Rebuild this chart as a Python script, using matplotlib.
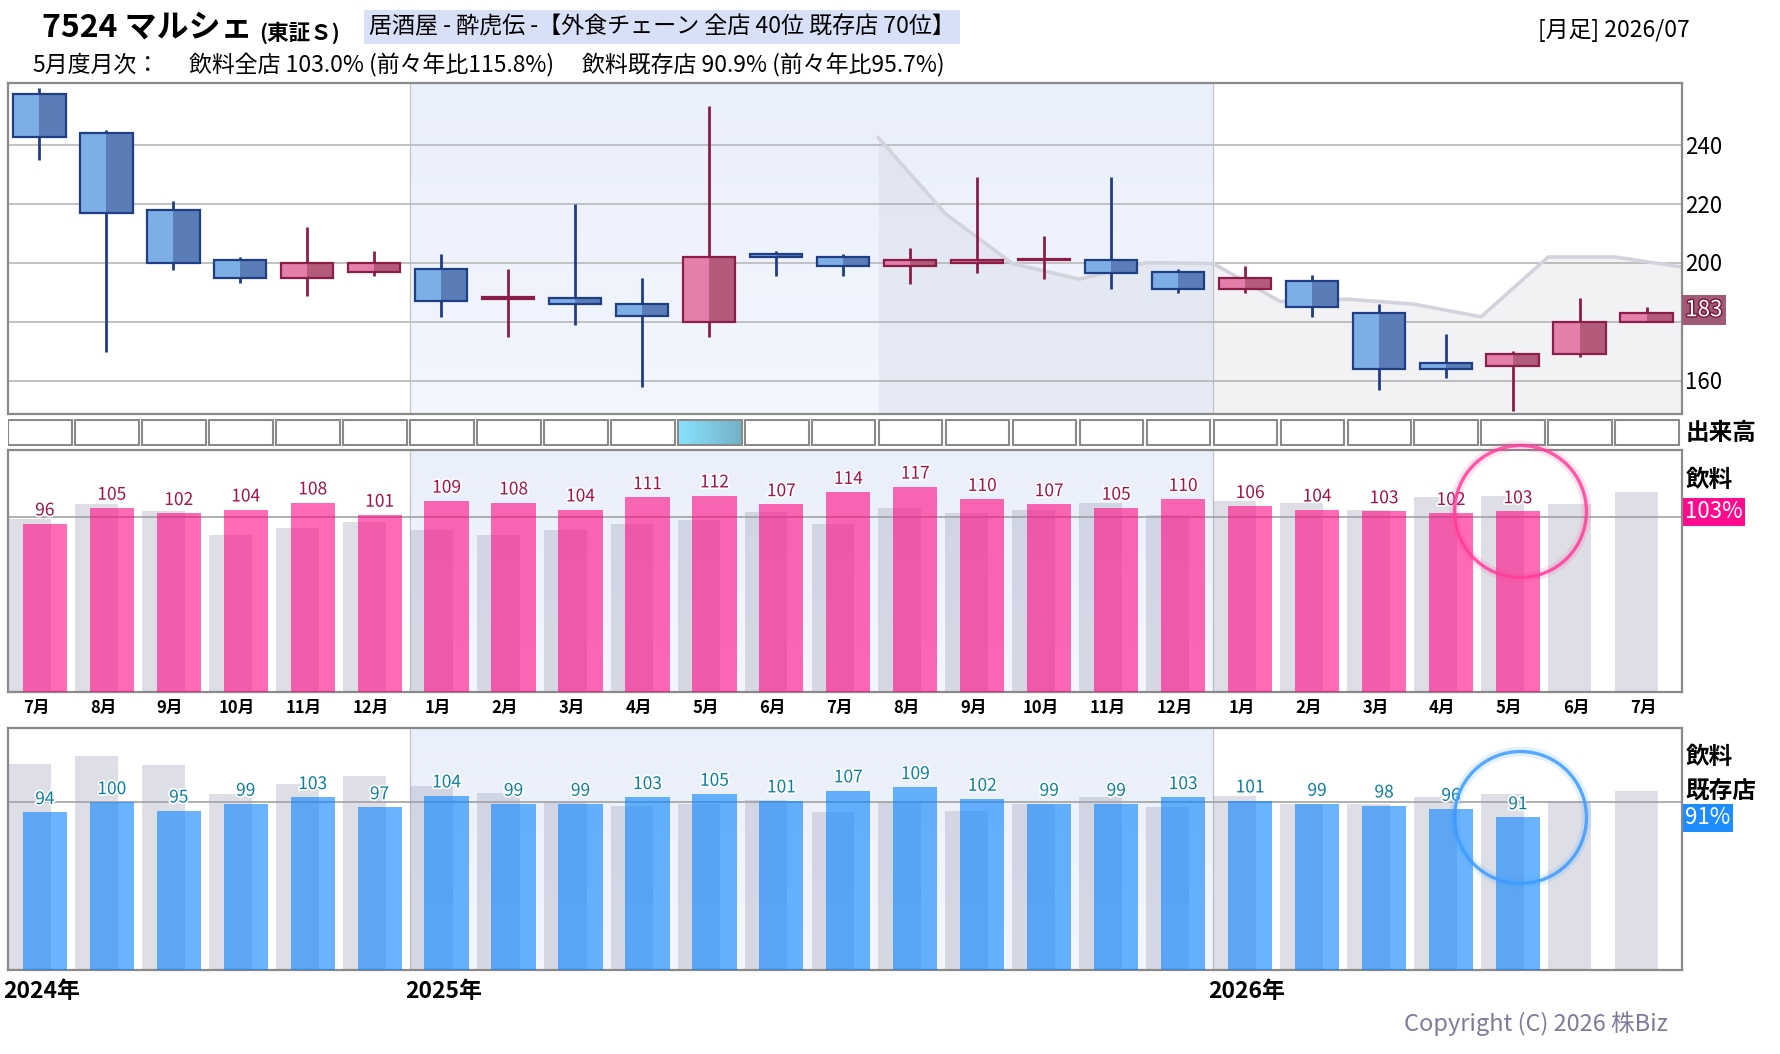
import numpy as np
import matplotlib
matplotlib.use('Agg')
import matplotlib.pyplot as plt
from matplotlib.patches import Rectangle
import matplotlib.patheffects as pe
import matplotlib.transforms as mtransforms

plt.rcParams['font.family'] = ['Noto Sans CJK JP', 'DejaVu Sans']

# ============================================================
#  DONNEES
# ============================================================
months = ['7月', '8月', '9月', '10月', '11月', '12月', '1月', '2月', '3月', '4月', '5月', '6月',
          '7月', '8月', '9月', '10月', '11月', '12月', '1月', '2月', '3月', '4月', '5月', '6月', '7月']
years = ['2024年', '2025年', '2026年']
year_start = [0, 6, 18]

opens  = [257.3, 244.1, 218.0, 201.0, 194.9, 196.9, 198.0, 188.0, 188.1, 186.1, 180.0, 203.0, 202.0,
          199.0, 200.0, 201.0, 201.0, 196.9, 191.1, 193.9, 183.0, 166.1, 165.1, 169.2, 180.1]
highs  = [259.5, 245.1, 221.1, 202.1, 212.3, 204.2, 203.2, 198.1, 220.0, 195.0, 253.3, 204.1, 203.2,
          205.2, 229.2, 209.3, 229.2, 198.1, 199.1, 196.0, 186.1, 175.9, 170.3, 188.2, 185.2]
lows   = [235.0, 170.0, 197.8, 193.2, 189.0, 195.8, 181.9, 174.8, 178.9, 157.8, 174.8, 195.8, 195.8,
          193.1, 196.8, 194.8, 191.1, 190.0, 190.0, 181.9, 156.8, 160.9, 149.7, 168.0, 180.1]
closes = [243.0, 216.9, 200.0, 194.9, 200.0, 200.0, 187.1, 188.4, 186.1, 182.0, 202.0, 202.0, 199.0,
          201.0, 201.0, 201.4, 196.8, 191.1, 194.9, 185.0, 164.1, 164.1, 169.2, 180.1, 183.0]
last_price = 183
price_ticks = [160, 200, 220, 240]

# ligne grise (moyenne), aux bords des mois a partir d'aout 2025
ma_start = 12.5
ma_vals = [242.6, 216.8, 199.9, 194.6, 200.2, 199.9, 187.0, 187.8, 186.1, 181.8, 202.1, 202.1, 198.7]

volume_highlight = 10

# 飲料 全店 (%)
all_store = [96, 105, 102, 104, 108, 101, 109, 108, 104, 111, 112, 107,
             114, 117, 110, 107, 105, 110, 106, 104, 103, 102, 103]
all_store_prev = [98.7, 107.2, 103.0, 89.3, 93.5, 97.2, 92.4, 89.3, 92.4, 95.6, 98.2, 102.4,
                  96, 105, 102, 104, 108, 101, 109, 108, 104, 111, 112, 107, 114]

# 飲料 既存店 (%)
exist_store = [94, 100, 95, 99, 103, 97, 104, 99, 99, 103, 105, 101,
               107, 109, 102, 99, 99, 103, 101, 99, 98, 96, 91]
exist_store_prev = [122.9, 127.7, 122.3, 105.0, 111.0, 115.8, 109.8, 105.6, 100.8, 97.8, 99.0, 101.4,
                    94, 100, 95, 99, 103, 97, 104, 99, 99, 103, 105, 101, 107]

# ============================================================
#  FIGURE
# ============================================================
W, H = 1780, 1054
fig = plt.figure(figsize=(W / 100, H / 100), dpi=100)

def box(x0, y0, x1, y1):
    return [x0 / W, 1 - y1 / H, (x1 - x0) / W, (y1 - y0) / H]

ax_c = fig.add_axes(box(8, 83, 1682, 414))
ax_v = fig.add_axes(box(8, 419, 1682, 446))
ax_p = fig.add_axes(box(8, 450, 1682, 692))
ax_b = fig.add_axes(box(8, 728, 1682, 970))

n = len(months)
x = np.arange(n)

def style_panel(ax, ylim):
    ax.set_xlim(-0.5, n - 0.5)
    ax.set_ylim(*ylim)
    ax.set_xticks([])
    ax.set_yticks([])
    for s in ax.spines.values():
        s.set_color('#8A8A8A')
        s.set_linewidth(1.6)
    # zone 2025
    grad = np.linspace(0, 1, 50).reshape(-1, 1)
    cmap = matplotlib.colors.LinearSegmentedColormap.from_list('bg', ['#F3F6FE', '#E9EFFB'])
    ax.imshow(grad, extent=(year_start[1] - 0.5, year_start[2] - 0.5, ylim[0], ylim[1]),
              origin='lower', aspect='auto', cmap=cmap, zorder=0)
    for xs in year_start[1:]:
        ax.axvline(xs - 0.5, color='#C4C4C8', lw=0.9, zorder=0.5)

# ------------------------------------------------------------
# 1. Bougies
# ------------------------------------------------------------
style_panel(ax_c, (148.8, 261.2))
for t in [160, 180, 200, 220, 240]:
    ax_c.axhline(t, color='#BDBDBD', lw=1.3, zorder=1)

ma_x = ma_start + np.arange(len(ma_vals))
ax_c.fill_between(ma_x, ma_vals, 148.8, color='#A0A2B8', alpha=0.13, lw=0, zorder=1.2)
ax_c.plot(ma_x, ma_vals, color='#D2D3DD', lw=2.6, zorder=1.3)

bw = 0.78
for i in range(n):
    o, h, l, c = opens[i], highs[i], lows[i], closes[i]
    up = c >= o
    if up:
        light, dark, edge = '#E47FAB', '#B45A7B', '#8A1E48'
    else:
        light, dark, edge = '#7DAEE6', '#5A7CB7', '#1F3E84'
    xc = i - 0.03
    ax_c.plot([xc, xc], [l, h], color=edge, lw=2.0, zorder=2, solid_capstyle='butt')
    lo, hi = min(o, c), max(o, c)
    ax_c.add_patch(Rectangle((xc - bw / 2, lo), bw / 2, hi - lo, facecolor=light, lw=0, zorder=3))
    ax_c.add_patch(Rectangle((xc, lo), bw / 2, hi - lo, facecolor=dark, lw=0, zorder=3))
    ax_c.add_patch(Rectangle((xc - bw / 2, lo), bw, hi - lo, facecolor='none', edgecolor=edge,
                             lw=1.6, zorder=4))

trans_c = mtransforms.blended_transform_factory(ax_c.transAxes, ax_c.transData)
for t in price_ticks:
    ax_c.text(1.002, t - 0.6, str(t), transform=trans_c, ha='left', va='center', fontsize=16,
              color='black', clip_on=False)
ax_c.text(1.002, last_price + 1.2, str(last_price), transform=trans_c, ha='left', va='center',
          fontsize=16, color='white', clip_on=False,
          path_effects=[pe.withStroke(linewidth=2, foreground='#7A1538')],
          bbox=dict(boxstyle='square,pad=0.15', facecolor='#A05A78', edgecolor='none'))

# ------------------------------------------------------------
# 2. Volume (cases vides)
# ------------------------------------------------------------
ax_v.set_xlim(-0.5, n - 0.5)
ax_v.set_ylim(0, 1)
ax_v.axis('off')
for i in range(n):
    if i == volume_highlight:
        g = np.linspace(0, 1, 50).reshape(1, -1)
        cm = matplotlib.colors.LinearSegmentedColormap.from_list('v', ['#8AE2FD', '#73B2C8'])
        ax_v.imshow(g, extent=(i - 0.5, i + 0.45, 0, 1), aspect='auto', cmap=cm, zorder=1)
        fc = 'none'
    else:
        fc = 'white'
    ax_v.add_patch(Rectangle((i - 0.5 + 0.005, 0.02), 0.95, 0.96, facecolor=fc,
                             edgecolor='#8A8A8A', lw=1.5, zorder=2))
ax_v.text(1.002, 0.5, '出来高', transform=ax_v.transAxes, ha='left', va='center',
          fontsize=17, fontweight='bold', clip_on=False)

# ------------------------------------------------------------
# 3. Barres 飲料 全店 / 既存店
# ------------------------------------------------------------
def bar_panel(ax, vals, prev, ylim, color, lab_color, box_color, circle_color):
    style_panel(ax, ylim)
    ax.axhline(100, color='#9A9A9A', lw=1.1, zorder=1)
    ax.bar(x - 0.18, prev, width=0.64, color='#A0A2B8', alpha=0.35, lw=0, zorder=2)
    xv = np.arange(len(vals))
    ax.bar(xv + 0.05, vals, width=0.66, color=color, alpha=0.6, lw=0, zorder=3)
    for i, v in enumerate(vals):
        ax.annotate(str(v), (i + 0.05, v), xytext=(0, 3), textcoords='offset points',
                    ha='center', va='bottom', fontsize=12.5, color=lab_color, zorder=5,
                    path_effects=[pe.withStroke(linewidth=2.5, foreground='white')])
    # cercle autour du dernier mois
    last = len(vals) - 1
    ax.plot([last + 0.08], [vals[-1]], 'o', ms=95, mfc='none', mec=circle_color, mew=7,
            alpha=0.15, zorder=6, clip_on=False)
    ax.plot([last + 0.08], [vals[-1]], 'o', ms=95, mfc='none', mec=circle_color, mew=2.4,
            alpha=0.85, zorder=6, clip_on=False)
    trans = mtransforms.blended_transform_factory(ax.transAxes, ax.transData)
    ax.text(1.002, vals[-1] - 0.3, f'{vals[-1]}%', transform=trans, ha='left', va='center',
            fontsize=16, color='white', clip_on=False,
            bbox=dict(boxstyle='square,pad=0.1', facecolor=box_color, edgecolor='none'))

bar_panel(ax_p, all_store, all_store_prev, (0, 138), '#FF0782', '#A0104A', '#FF0A8C', '#FF3D9A')
ax_p.text(1.002, 0.875, '飲料', transform=ax_p.transAxes, ha='left', va='center',
          fontsize=17, fontweight='bold', clip_on=False)
tp = mtransforms.blended_transform_factory(ax_p.transData, ax_p.transAxes)
for i, m in enumerate(months):
    ax_p.text(i - 0.08, -0.066, m, transform=tp, ha='center', va='center',
              fontsize=12, fontweight='bold')

bar_panel(ax_b, exist_store, exist_store_prev, (0, 144.3), '#0782FF', '#0A7FA0', '#1E8CFF', '#3D9CFF')
ax_b.text(1.002, 0.88, '飲料', transform=ax_b.transAxes, ha='left', va='center',
          fontsize=17, fontweight='bold', clip_on=False)
ax_b.text(1.002, 0.74, '既存店', transform=ax_b.transAxes, ha='left', va='center',
          fontsize=17, fontweight='bold', clip_on=False)
tb = mtransforms.blended_transform_factory(ax_b.transData, ax_b.transAxes)
for ys, lab in zip(year_start, years):
    ax_b.text(ys - 0.57, -0.09, lab, transform=tb, ha='left', va='center',
              fontsize=16.5, fontweight='bold', clip_on=False)

# ------------------------------------------------------------
# 4. Titres
# ------------------------------------------------------------
def ftext(px, py, s, **kw):
    return fig.text(px / W, 1 - py / H, s, **kw)

title = ftext(42, 37, '7524 マルシェ', fontsize=23, fontweight='bold', va='baseline')
plt.annotate('(東証Ｓ)', xy=(1, 0), xycoords=title, xytext=(5, 0), textcoords='offset points',
             fontsize=15.5, fontweight='bold', va='bottom', annotation_clip=False)
ftext(369, 27, '居酒屋 - 酔虎伝 -【外食チェーン 全店 40位 既存店 70位】', fontsize=16.6,
      va='center', bbox=dict(boxstyle='square,pad=0.22', facecolor='#D8E0F8', edgecolor='none'))
ftext(1690, 30, '[月足] 2026/07', fontsize=16.5, va='center', ha='right')
ftext(32, 65, '5月度月次：', fontsize=16.5, va='center')
ftext(189, 65, '飲料全店 103.0% (前々年比115.8%)', fontsize=16.5, va='center')
ftext(582, 65, '飲料既存店 90.9% (前々年比95.7%)', fontsize=16.5, va='center')
ftext(1668, 1024, 'Copyright (C) 2026 株Biz', fontsize=17, color='#7C7C9C', va='center', ha='right')

plt.savefig('out.png', dpi=100)
